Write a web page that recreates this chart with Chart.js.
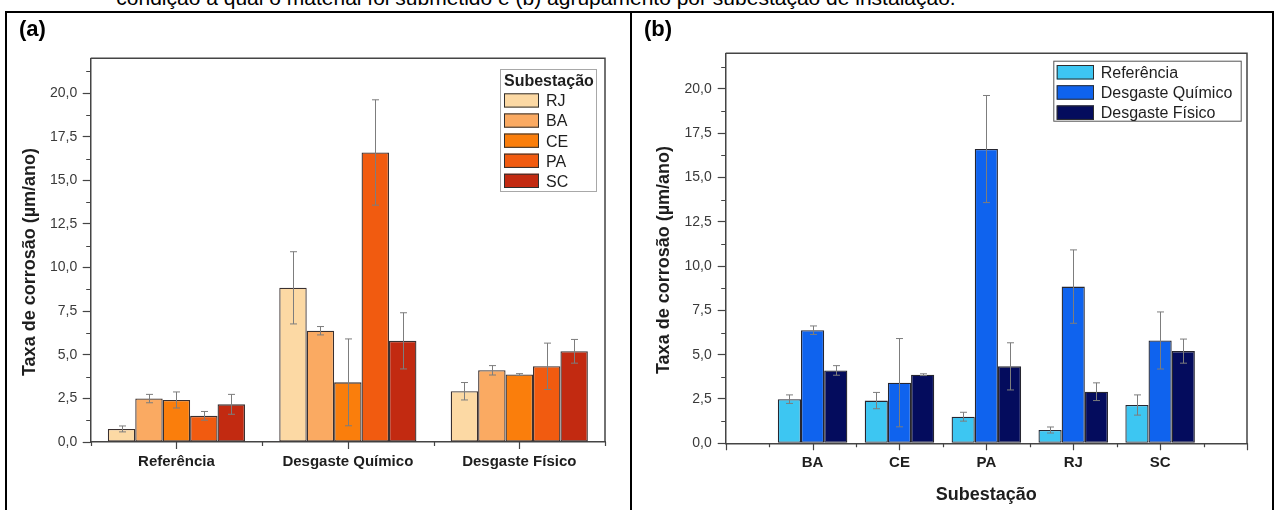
<!DOCTYPE html>
<html lang="pt-BR">
<head>
<meta charset="utf-8">
<title>Taxa de corrosão por condição e por subestação</title>
<script src="https://cdn.jsdelivr.net/npm/chart.js@4.4.1/dist/chart.umd.min.js"></script>
<style>
  html, body { margin: 0; padding: 0; background: #fff; }
  body { width: 1274px; height: 510px; position: relative; overflow: hidden;
         font-family: "Liberation Sans", Arial, sans-serif; color: #000; }
  #legenda-figura { position: absolute; left: 0; top: -14px; width: 1072px; text-align: center;
                    font-size: 21px; line-height: 24px; white-space: nowrap; }
  #moldura { position: absolute; left: 5px; top: 11px; width: 1265px; height: 620px;
             border: 2px solid #000; border-bottom: none; z-index: 2; pointer-events: none; }
  #divisor { position: absolute; left: 630px; top: 11px; width: 2px; height: 620px; background: #000; z-index: 2; }
  .rotulo { position: absolute; top: 16px; font-weight: bold; font-size: 22px; line-height: 26px; z-index: 3; }
  canvas { position: absolute; top: 0; }
</style>
</head>
<body>
<div id="legenda-figura">condição à qual o material foi submetido e (b) agrupamento por subestação de instalação.</div>
<canvas id="graficoA" width="630" height="510" style="left:0"></canvas>
<canvas id="graficoB" width="644" height="510" style="left:630px"></canvas>
<div id="moldura"></div>
<div id="divisor"></div>
<div class="rotulo" style="left:19px">(a)</div>
<div class="rotulo" style="left:644px">(b)</div>
<script>
// ---- dados ----
const condicoes = ['Referência', 'Desgaste Químico', 'Desgaste Físico'];
const subestacoes = ['RJ', 'BA', 'CE', 'PA', 'SC'];
const subestacoesOrdenadas = ['BA', 'CE', 'PA', 'RJ', 'SC'];

// taxa de corrosão (µm/ano) na ordem de `subestacoes`
const taxaReferencia = [0.75, 2.49, 2.41, 1.50, 2.16];
const taxaQuimico    = [8.84, 6.38, 3.42, 16.60, 5.80];
const taxaFisico     = [2.91, 4.11, 3.87, 4.34, 5.20];

// desvio (barra de erro) na mesma ordem
const erroReferencia = [0.17, 0.24, 0.46, 0.25, 0.57];
const erroQuimico    = [2.07, 0.24, 2.49, 3.02, 1.61];
const erroFisico     = [0.50, 0.27, 0.05, 1.33, 0.68];

const marcasY        = [0, 2.5, 5, 7.5, 10, 12.5, 15, 17.5, 20];
const marcasYMenores = [1.25, 3.75, 6.25, 8.75, 11.25, 13.75, 16.25, 18.75, 21.25];
const limiteY = [0, 22];

// ---- estilos ----
const FONTE = "'Liberation Sans', Arial, sans-serif";
Chart.defaults.font.family = FONTE;
const coresSubestacao = ['#FCD9A4', '#FAAA62', '#FA7E0C', '#F15B10', '#C22A11'];
const coresCondicao   = ['#3DC6F2', '#0F63EE', '#040C5D'];
const COR_EIXO = '#444';

const formatarValor = v => Number(v).toFixed(1).replace('.', ',');

// barras de erro, moldura, marcas de eixo, título do eixo y e legenda
const acabamento = {
  id: 'acabamento',
  afterDatasetsDraw(chart, args, o) {
    const ctx = chart.ctx, ys = chart.scales.y;
    ctx.save();
    ctx.strokeStyle = '#7d7d7d';
    ctx.lineWidth = 1;
    chart.data.datasets.forEach((ds, i) => {
      chart.getDatasetMeta(i).data.forEach((barra, j) => {
        const v = ds.data[j];
        if (v === null || v === undefined) return;
        const e = ds.erro[j];
        const x = Math.round(barra.x) + 0.5;
        const y1 = ys.getPixelForValue(v + e), y2 = ys.getPixelForValue(v - e);
        ctx.beginPath();
        ctx.moveTo(x, y1); ctx.lineTo(x, y2);
        ctx.moveTo(x - 3.5, y1); ctx.lineTo(x + 3.5, y1);
        ctx.moveTo(x - 3.5, y2); ctx.lineTo(x + 3.5, y2);
        ctx.stroke();
      });
    });
    ctx.restore();
  },
  afterDraw(chart, args, o) {
    const ctx = chart.ctx, a = chart.chartArea;
    const xs = chart.scales.x, ys = chart.scales.y;
    ctx.save();
    ctx.strokeStyle = COR_EIXO;
    ctx.lineWidth = 1.5;
    // moldura superior e direita
    ctx.beginPath();
    ctx.moveTo(a.left, a.top); ctx.lineTo(a.right, a.top); ctx.lineTo(a.right, a.bottom);
    ctx.stroke();
    // marcas menores do eixo y
    ctx.lineWidth = 1.2;
    ctx.beginPath();
    marcasYMenores.forEach(v => {
      const y = Math.round(ys.getPixelForValue(v)) + 0.5;
      ctx.moveTo(a.left - 4.5, y); ctx.lineTo(a.left, y);
    });
    // marcas do eixo x
    const n = xs.ticks.length;
    const passo = xs.getPixelForValue(1) - xs.getPixelForValue(0);
    for (let i = 0; i < n; i++) {
      const x = Math.round(xs.getPixelForValue(i)) + 0.5;
      ctx.moveTo(x, a.bottom); ctx.lineTo(x, a.bottom + 7);
    }
    const meios = o.deslocado ? n + 1 : n - 1;
    const inicio = o.deslocado ? xs.getPixelForValue(0) - passo / 2 : xs.getPixelForValue(0) + passo / 2;
    for (let i = 0; i < meios; i++) {
      const x = Math.round(inicio + i * passo) + 0.5;
      ctx.moveTo(x, a.bottom); ctx.lineTo(x, a.bottom + 4);
    }
    ctx.stroke();

    // título do eixo y
    ctx.fillStyle = '#1e1e1e';
    ctx.font = 'bold 18px ' + FONTE;
    ctx.textAlign = 'center';
    ctx.textBaseline = 'middle';
    ctx.translate(o.tituloY.x, o.tituloY.y);
    ctx.rotate(-Math.PI / 2);
    ctx.fillText('Taxa de corrosão (µm/ano)', 0, 0);
    ctx.setTransform(1, 0, 0, 1, 0, 0);

    // legenda
    const L = o.legenda;
    ctx.fillStyle = '#fff';
    ctx.fillRect(L.x, L.y, L.w, L.h);
    ctx.strokeStyle = L.borda;
    ctx.lineWidth = 1;
    ctx.strokeRect(L.x + 0.5, L.y + 0.5, L.w - 1, L.h - 1);
    ctx.textAlign = 'left';
    ctx.textBaseline = 'alphabetic';
    ctx.fillStyle = '#1e1e1e';
    if (L.titulo) {
      ctx.font = 'bold 16px ' + FONTE;
      ctx.fillText(L.titulo, L.textoTituloX, L.tituloBase);
    }
    ctx.font = '16px ' + FONTE;
    chart.data.datasets.forEach((ds, i) => {
      const top = L.primeira + i * L.passo;
      ctx.fillStyle = ds.backgroundColor;
      ctx.fillRect(L.amostraX, top, L.amostraW, L.amostraH);
      ctx.strokeStyle = '#2e2e2e';
      ctx.strokeRect(L.amostraX + 0.5, top + 0.5, L.amostraW - 1, L.amostraH - 1);
      ctx.fillStyle = '#1e1e1e';
      ctx.fillText(ds.label, L.textoX, top + 13);
    });
    ctx.restore();
  }
};

function eixoY(largura, espaco) {
  return {
    min: limiteY[0], max: limiteY[1],
    afterBuildTicks: s => { s.ticks = marcasY.map(v => ({ value: v })); },
    grid: { drawOnChartArea: false, drawTicks: true, tickLength: 8, tickColor: COR_EIXO, tickWidth: 1.2 },
    border: { display: true, color: COR_EIXO, width: 1.5 },
    ticks: { color: '#3a3a3a', font: { size: 14 }, padding: espaco, callback: v => formatarValor(v) },
    afterFit: s => { s.width = largura; }
  };
}

function eixoX(altura, deslocado, titulo) {
  return {
    offset: deslocado,
    grid: { display: false, drawTicks: false },
    border: { display: true, color: COR_EIXO, width: 1.5 },
    ticks: { color: '#1e1e1e', font: { size: 15, weight: 'bold' }, padding: 11, maxRotation: 0, autoSkip: false },
    title: titulo ? { display: true, text: titulo, color: '#1e1e1e', font: { size: 18, weight: 'bold' },
                      padding: { top: 0, bottom: 4 } } : { display: false },
    afterFit: s => { s.height = altura; }
  };
}

// (a) agrupamento por condição
new Chart(document.getElementById('graficoA'), {
  type: 'bar',
  data: {
    labels: condicoes,
    datasets: subestacoes.map((nome, i) => ({
      label: nome,
      data: [taxaReferencia[i], taxaQuimico[i], taxaFisico[i]],
      erro: [erroReferencia[i], erroQuimico[i], erroFisico[i]],
      backgroundColor: coresSubestacao[i],
      borderColor: '#3a3030',
      borderWidth: 1.3,
      borderSkipped: false,
      categoryPercentage: 0.8,
      barPercentage: 1.0
    }))
  },
  options: {
    responsive: false, animation: false,
    layout: { padding: { left: 0, top: 58.3, right: 25, bottom: 0 } },
    plugins: {
      legend: { display: false }, tooltip: { enabled: false },
      acabamento: {
        deslocado: true,
        tituloY: { x: 30, y: 262 },
        legenda: { x: 500, y: 69, w: 97, h: 123, borda: '#a8a8a8', titulo: 'Subestação',
                   textoTituloX: 504, tituloBase: 86, primeira: 93.3, passo: 20.1,
                   amostraX: 504, amostraW: 35, amostraH: 14.3, textoX: 546 }
      }
    },
    scales: { x: eixoX(68, true, null), y: eixoY(90.7, 5.4) }
  },
  plugins: [acabamento]
});

// (b) agrupamento por subestação
const rotulosB = [''].concat(subestacoesOrdenadas, ['']);
const serieB = valores => [null].concat(subestacoesOrdenadas.map(n => valores[subestacoes.indexOf(n)]), [null]);
const seriesCondicao = [
  [taxaReferencia, erroReferencia],
  [taxaQuimico, erroQuimico],
  [taxaFisico, erroFisico]
];
new Chart(document.getElementById('graficoB'), {
  type: 'bar',
  data: {
    labels: rotulosB,
    datasets: condicoes.map((nome, i) => ({
      label: nome,
      data: serieB(seriesCondicao[i][0]),
      erro: serieB(seriesCondicao[i][1]),
      backgroundColor: coresCondicao[i],
      borderColor: '#262630',
      borderWidth: 1.3,
      borderSkipped: false,
      categoryPercentage: 0.8,
      barPercentage: 1.0
    }))
  },
  options: {
    responsive: false, animation: false,
    layout: { padding: { left: 0, top: 53.3, right: 27, bottom: 0 } },
    plugins: {
      legend: { display: false }, tooltip: { enabled: false },
      acabamento: {
        deslocado: false,
        tituloY: { x: 34, y: 260 },
        legenda: { x: 423.3, y: 60.7, w: 188.4, h: 61, borda: '#555', titulo: null,
                   primeira: 65, passo: 20.2, amostraX: 426.7, amostraW: 37.3, amostraH: 14.5, textoX: 470.7 }
      }
    },
    scales: { x: eixoX(66.7, false, 'Subestação'), y: eixoY(95.7, 6) }
  },
  plugins: [acabamento]
});
</script>
</body>
</html>
